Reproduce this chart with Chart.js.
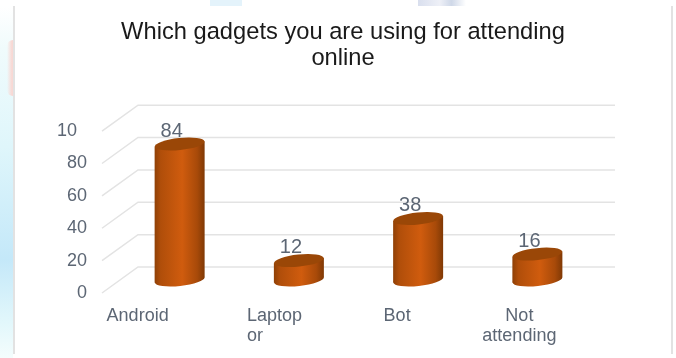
<!DOCTYPE html>
<html>
<head>
<meta charset="utf-8">
<title>Gadgets used for attending online</title>
<script src="https://cdn.jsdelivr.net/npm/chart.js@4"></script>
<style>
  html, body { margin: 0; padding: 0; background: #fff; overflow: hidden; }
  #page { position: relative; width: 676px; height: 358px; overflow: hidden; }
  /* washed-out page artwork showing around the card */
  #sideArt { position: absolute; left: 0; top: 6px; width: 13px; height: 352px;
    background: linear-gradient(to bottom, #fff 0%, #f0fbfc 12%, #dff6fb 40%, #c4e8f9 72%, #e2f7fb 90%, #f4fdfd 100%); }
  #sideGlow { position: absolute; left: 7px; top: 40px; width: 6px; height: 56px;
    border-radius: 6px 0 0 6px; background: linear-gradient(to right, rgba(248,220,217,0), #f8d8d4 80%); }
  #topArt1 { position: absolute; left: 210px; top: 0; width: 32px; height: 6px; background: #e4f3fb; }
  #topArt2 { position: absolute; left: 418px; top: 0; width: 48px; height: 6px;
    background: linear-gradient(to right, #d9dfee, #eef0f7 45%, #cfd8e8 70%, #fff); }
  #card { position: absolute; left: 13px; top: 6px; width: 656px; height: 348px;
    background: #fff; border: solid #e2e2e2; border-width: 0 2px; }
  #chartBox { position: absolute; left: 0; top: 0; width: 676px; height: 358px; }
</style>
</head>
<body>
<div id="page">
  <div id="sideArt"></div>
  <div id="sideGlow"></div>
  <div id="topArt1"></div>
  <div id="topArt2"></div>
  <div id="card"></div>
  <div id="chartBox"><canvas id="gadgetsChart" width="676" height="358"></canvas></div>
</div>

<script>
// ---------------- DATA ----------------
const titleLines = ['Which gadgets you are using for attending', 'online'];
const categories = [['Android'], ['Laptop', 'or'], ['Bot'], ['Not', 'attending']];
const values = [84, 12, 38, 16];
const yTicks = [0, 20, 40, 60, 80, 100];
// top label is cut short, the trailing spaces hold the place of its lost digit
const yTickLabels = ['0', '20', '40', '60', '80', '10  '];

// ---------------- STYLE ----------------
const FONT = '"Liberation Sans", Arial, sans-serif';
const TEXT_COLOR = '#5c6674';
const GRID_COLOR = '#e3e3e3';
const DEPTH_X = 18;   // half the floor depth, sideways
const DEPTH_Y = 13;   // half the floor depth, upwards
const CAP_RY = 6;     // cylinder cap height
const CAP_TILT = -6 * Math.PI / 180;

// shift of each category label from its bar, and text alignment inside the label
const labelShift = [-42, -52, -21, -18];
const labelAlign = ['center', 'left', 'center', 'center'];

// ---------------- 3D WALLS ----------------
const wallsPlugin = {
  id: 'walls',
  beforeDatasetsDraw(chart) {
    const { ctx, chartArea, scales: { y } } = chart;
    ctx.save();
    ctx.strokeStyle = GRID_COLOR;
    ctx.lineWidth = 1.5;
    yTicks.forEach(v => {
      const py = y.getPixelForValue(v);
      ctx.beginPath();
      ctx.moveTo(chartArea.left - DEPTH_X, py + DEPTH_Y);
      ctx.lineTo(chartArea.left + DEPTH_X, py - DEPTH_Y);
      ctx.lineTo(chartArea.right + DEPTH_X, py - DEPTH_Y);
      ctx.stroke();
    });
    ctx.restore();
  }
};

// ---------------- CYLINDERS ----------------
function capPath(ctx, x, y, rx) {
  ctx.beginPath();
  ctx.ellipse(x, y, rx, CAP_RY, CAP_TILT, 0, Math.PI * 2);
}

const cylinderPlugin = {
  id: 'cylinders',
  afterDatasetsDraw(chart) {
    const { ctx } = chart;
    const meta = chart.getDatasetMeta(0);
    ctx.save();
    meta.data.forEach((bar, i) => {
      const rx = bar.width / 2;
      const left = bar.x - rx, right = bar.x + rx;
      const rise = Math.sin(-CAP_TILT) * rx;

      const side = ctx.createLinearGradient(left, 0, right, 0);
      side.addColorStop(0, '#8f4006');
      side.addColorStop(0.12, '#b04e0a');
      side.addColorStop(0.55, '#d05c0e');
      side.addColorStop(0.85, '#a84a09');
      side.addColorStop(1, '#803905');

      // body: bottom cap plus the strip up to the top cap
      ctx.fillStyle = side;
      capPath(ctx, bar.x, bar.base, rx);
      ctx.fill();
      ctx.beginPath();
      ctx.moveTo(left, bar.base + rise);
      ctx.lineTo(left, bar.y + rise);
      ctx.lineTo(right, bar.y - rise);
      ctx.lineTo(right, bar.base - rise);
      ctx.closePath();
      ctx.fill();

      // top cap
      ctx.fillStyle = '#9a4707';
      capPath(ctx, bar.x, bar.y, rx);
      ctx.fill();

      // value above the cap
      ctx.fillStyle = TEXT_COLOR;
      ctx.font = '20px ' + FONT;
      ctx.textAlign = 'center';
      ctx.textBaseline = 'middle';
      ctx.fillText(String(values[i]), bar.x - 8, bar.y - 13);
    });
    ctx.restore();
  }
};

// ---------------- CATEGORY LABELS ----------------
const categoryLabelsPlugin = {
  id: 'categoryLabels',
  afterDraw(chart) {
    const { ctx, chartArea, scales: { x } } = chart;
    ctx.save();
    ctx.fillStyle = TEXT_COLOR;
    ctx.font = '18px ' + FONT;
    ctx.textBaseline = 'middle';
    categories.forEach((lines, i) => {
      ctx.textAlign = labelAlign[i];
      lines.forEach((line, n) => {
        ctx.fillText(line, x.getPixelForTick(i) + labelShift[i], chartArea.bottom + 36 + n * 20);
      });
    });
    ctx.restore();
  }
};

// ---------------- CHART ----------------
new Chart(document.getElementById('gadgetsChart'), {
  type: 'bar',
  data: {
    labels: categories.map(c => c.join(' ')),
    datasets: [{
      label: 'Responses',
      data: values,
      backgroundColor: 'rgba(0,0,0,0)',
      barThickness: 50
    }]
  },
  options: {
    responsive: false,
    animation: false,
    layout: { padding: { left: 10, top: 19, bottom: 0, right: 0 } },
    plugins: {
      legend: { display: false },
      tooltip: { enabled: false },
      title: {
        display: true,
        text: titleLines,
        color: '#1a1a1a',
        font: { family: FONT, size: 23.7, weight: 'normal', lineHeight: 1.1 },
        padding: { top: 0, bottom: 47 }
      }
    },
    scales: {
      x: {
        grid: { display: false },
        border: { display: false },
        ticks: { display: false },
        afterFit(scale) { scale.height = 78; }
      },
      y: {
        min: 0,
        max: 100,
        afterFit(scale) { scale.width = 110; },
        afterBuildTicks(scale) { scale.ticks = yTicks.map(v => ({ value: v })); },
        grid: { display: false, drawTicks: false },
        border: { display: false },
        ticks: {
          color: TEXT_COLOR,
          font: { family: FONT, size: 18 },
          padding: 33,
          labelOffset: 13,
          callback: (v) => yTickLabels[yTicks.indexOf(v)]
        }
      },
      // empty axis, only reserves the gap right of the plot
      gap: {
        position: 'right',
        grid: { display: false },
        border: { display: false },
        ticks: { display: false },
        afterFit(scale) { scale.width = 79; }
      }
    }
  },
  plugins: [wallsPlugin, cylinderPlugin, categoryLabelsPlugin]
});
</script>
</body>
</html>
